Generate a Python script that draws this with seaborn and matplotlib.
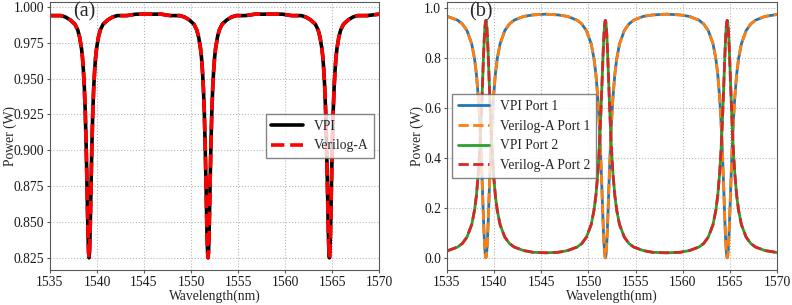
import numpy as np
import pandas as pd
import seaborn as sns
import matplotlib
matplotlib.use("Agg")
import matplotlib.pyplot as plt
from matplotlib import font_manager
from matplotlib.ticker import FormatStrFormatter

# ---- data (three resonances near 1539.15 / 1551.8 / 1564.7 nm)
wavelength = [
    1535.0, 1536.15, 1536.65, 1537.15, 1537.65, 1537.95, 1538.15, 1538.35, 1538.45, 1538.55,
    1538.65, 1538.75, 1538.85, 1538.9, 1538.95, 1539.0, 1539.05, 1539.1, 1539.15, 1539.2,
    1539.25, 1539.3, 1539.35, 1539.4, 1539.45, 1539.55, 1539.65, 1539.75, 1539.85, 1539.95,
    1540.15, 1540.35, 1540.65, 1541.15, 1541.65, 1542.15, 1543.15, 1544.15,
    1545.475,
    1546.8, 1547.8, 1548.8, 1549.3, 1549.8, 1550.3, 1550.6, 1550.8, 1551.0, 1551.1,
    1551.2, 1551.3, 1551.4, 1551.5, 1551.55, 1551.6, 1551.65, 1551.7, 1551.75, 1551.8,
    1551.85, 1551.9, 1551.95, 1552.0, 1552.05, 1552.1, 1552.2, 1552.3, 1552.4, 1552.5,
    1552.6, 1552.8, 1553.0, 1553.3, 1553.8, 1554.3, 1554.8, 1555.8, 1556.8,
    1558.25,
    1559.7, 1560.7, 1561.7, 1562.2, 1562.7, 1563.2, 1563.5, 1563.7, 1563.9, 1564.0,
    1564.1, 1564.2, 1564.3, 1564.4, 1564.45, 1564.5, 1564.55, 1564.6, 1564.65, 1564.7,
    1564.75, 1564.8, 1564.85, 1564.9, 1564.95, 1565.0, 1565.1, 1565.2, 1565.3, 1565.4,
    1565.5, 1565.7, 1565.9, 1566.2, 1566.7, 1567.2, 1567.7, 1568.7, 1570.0,
]

# (a) all-pass ring, through power
vpi_a = [
    0.994, 0.994, 0.993, 0.991, 0.988, 0.984, 0.979, 0.971, 0.965, 0.956,
    0.944, 0.927, 0.902, 0.887, 0.871, 0.854, 0.839, 0.829, 0.825, 0.829,
    0.839, 0.854, 0.871, 0.887, 0.902, 0.927, 0.944, 0.956, 0.965, 0.971,
    0.979, 0.984, 0.988, 0.991, 0.993, 0.994, 0.994, 0.995,
    0.995,
    0.995, 0.994, 0.994, 0.993, 0.991, 0.988, 0.984, 0.979, 0.971, 0.965,
    0.956, 0.944, 0.927, 0.902, 0.887, 0.871, 0.854, 0.839, 0.829, 0.825,
    0.829, 0.839, 0.854, 0.871, 0.887, 0.902, 0.927, 0.944, 0.956, 0.965,
    0.971, 0.979, 0.984, 0.988, 0.991, 0.993, 0.994, 0.994, 0.995,
    0.995,
    0.995, 0.994, 0.994, 0.993, 0.991, 0.988, 0.984, 0.979, 0.971, 0.965,
    0.956, 0.944, 0.927, 0.902, 0.887, 0.871, 0.854, 0.839, 0.829, 0.825,
    0.829, 0.839, 0.854, 0.871, 0.887, 0.902, 0.927, 0.944, 0.956, 0.965,
    0.971, 0.979, 0.984, 0.988, 0.991, 0.993, 0.994, 0.994, 0.995,
]
veriloga_a = vpi_a  # the Verilog-A trace sits exactly on the VPI one

# (b) add-drop ring, port 1 (through) and port 2 (drop)
vpi_port1 = [
    0.967, 0.951, 0.936, 0.909, 0.856, 0.796, 0.734, 0.640, 0.577, 0.502,
    0.413, 0.311, 0.203, 0.150, 0.102, 0.060, 0.028, 0.007, 0.000, 0.007,
    0.028, 0.060, 0.102, 0.150, 0.203, 0.311, 0.413, 0.502, 0.577, 0.640,
    0.734, 0.796, 0.856, 0.909, 0.936, 0.951, 0.966, 0.972,
    0.975,
    0.972, 0.966, 0.951, 0.936, 0.909, 0.856, 0.796, 0.734, 0.640, 0.577,
    0.502, 0.413, 0.311, 0.203, 0.150, 0.102, 0.060, 0.028, 0.007, 0.000,
    0.007, 0.028, 0.060, 0.102, 0.150, 0.203, 0.311, 0.413, 0.502, 0.577,
    0.640, 0.734, 0.796, 0.856, 0.909, 0.936, 0.951, 0.966, 0.972,
    0.975,
    0.972, 0.966, 0.951, 0.936, 0.909, 0.856, 0.796, 0.734, 0.640, 0.577,
    0.502, 0.413, 0.311, 0.203, 0.150, 0.102, 0.060, 0.028, 0.007, 0.000,
    0.007, 0.028, 0.060, 0.102, 0.150, 0.203, 0.311, 0.413, 0.502, 0.577,
    0.640, 0.734, 0.796, 0.856, 0.909, 0.936, 0.951, 0.966, 0.974,
]
vpi_port2 = [
    0.027, 0.043, 0.057, 0.083, 0.133, 0.191, 0.250, 0.339, 0.399, 0.471,
    0.557, 0.654, 0.757, 0.807, 0.853, 0.893, 0.924, 0.943, 0.950, 0.943,
    0.924, 0.893, 0.853, 0.807, 0.757, 0.654, 0.557, 0.471, 0.399, 0.339,
    0.250, 0.191, 0.133, 0.083, 0.057, 0.043, 0.029, 0.022,
    0.020,
    0.022, 0.029, 0.043, 0.057, 0.083, 0.133, 0.191, 0.250, 0.339, 0.399,
    0.471, 0.557, 0.654, 0.757, 0.807, 0.853, 0.893, 0.924, 0.943, 0.950,
    0.943, 0.924, 0.893, 0.853, 0.807, 0.757, 0.654, 0.557, 0.471, 0.399,
    0.339, 0.250, 0.191, 0.133, 0.083, 0.057, 0.043, 0.029, 0.022,
    0.020,
    0.022, 0.029, 0.043, 0.057, 0.083, 0.133, 0.191, 0.250, 0.339, 0.399,
    0.471, 0.557, 0.654, 0.757, 0.807, 0.853, 0.893, 0.924, 0.943, 0.950,
    0.943, 0.924, 0.893, 0.853, 0.807, 0.757, 0.654, 0.557, 0.471, 0.399,
    0.339, 0.250, 0.191, 0.133, 0.083, 0.057, 0.043, 0.029, 0.021,
]
veriloga_port1 = vpi_port1
veriloga_port2 = vpi_port2

x_ticks = [1535, 1540, 1545, 1550, 1555, 1560, 1565, 1570]
y_ticks_a = [0.825, 0.850, 0.875, 0.900, 0.925, 0.950, 0.975, 1.000]
y_ticks_b = [0.0, 0.2, 0.4, 0.6, 0.8, 1.0]

# ---- style
sns.set_theme(style="ticks")
# Times-like serif: take whichever is installed
installed = {f.name for f in font_manager.fontManager.ttflist}
serif = next((n for n in ['Times New Roman', 'Liberation Serif', 'Nimbus Roman',
                          'FreeSerif', 'STIXGeneral'] if n in installed), 'DejaVu Serif')
plt.rcParams['font.family'] = [serif, 'DejaVu Serif']
plt.rcParams['font.size'] = 9.8
FS = 9.8

fig = plt.figure(figsize=(7.92, 3.05), dpi=100)
ax1 = fig.add_axes([0.0631, 0.1148, 0.4158, 0.8787])
ax2 = fig.add_axes([0.5640, 0.1148, 0.4174, 0.8787])

df = pd.DataFrame({'wl': wavelength, 'vpi_a': vpi_a, 'ver_a': veriloga_a,
                   'vpi1': vpi_port1, 'ver1': veriloga_port1,
                   'vpi2': vpi_port2, 'ver2': veriloga_port2})

# (a)
sns.lineplot(data=df, x='wl', y='vpi_a', ax=ax1, color='black', lw=2.6, label='VPI')
sns.lineplot(data=df, x='wl', y='ver_a', ax=ax1, color='red', lw=2.6,
             linestyle='--', label='Verilog-A')

# (b)
sns.lineplot(data=df, x='wl', y='vpi1', ax=ax2, color='#1f77b4', lw=2.0, label='VPI Port 1')
sns.lineplot(data=df, x='wl', y='ver1', ax=ax2, color='#ff7f0e', lw=2.0,
             linestyle='--', label='Verilog-A Port 1')
sns.lineplot(data=df, x='wl', y='vpi2', ax=ax2, color='#2ca02c', lw=2.0, label='VPI Port 2')
sns.lineplot(data=df, x='wl', y='ver2', ax=ax2, color='#d62728', lw=2.0,
             linestyle='--', label='Verilog-A Port 2')

for ax, tag, yt in [(ax1, '(a)', y_ticks_a), (ax2, '(b)', y_ticks_b)]:
    ax.set_xlim(1535, 1570)
    ax.set_xticks(x_ticks)
    ax.set_yticks(yt)
    ax.grid(True, linestyle=':', color='0.72', lw=0.8)
    ax.set_xlabel('Wavelength(nm)', fontsize=FS, labelpad=1)
    ax.set_ylabel('Power (W)', fontsize=FS)
    ax.tick_params(length=2.5, width=0.8, pad=1.5, labelsize=FS, color='0.35',
                   labelcolor='0.1')
    for s in ax.spines.values():
        s.set_color('0.35')
        s.set_linewidth(0.8)
    ax.text(0.104, 0.965, tag, transform=ax.transAxes, ha='center', va='center',
            fontsize=14.5)

# y labels placed so they stay inside the canvas
ax1.yaxis.set_label_coords(-0.101, 0.5)
ax2.yaxis.set_label_coords(-0.068, 0.5)

ax1.yaxis.set_major_formatter(FormatStrFormatter('%.3f'))
ax2.yaxis.set_major_formatter(FormatStrFormatter('%.1f'))
# keep the default 5% y margins, as in the original
ax1.set_ylim(0.825 - 0.0085, 0.995 + 0.0085)
ax2.set_ylim(-0.04875, 0.975 + 0.04875)

ax1.legend(loc='center right', fancybox=False, edgecolor='0.4', fontsize=FS,
           handlelength=2.3, borderaxespad=0.4)
ax2.legend(loc='center left', fancybox=False, edgecolor='0.4', fontsize=FS,
           handlelength=2.3, borderaxespad=0.4)

fig.savefig('out.png', dpi=100)
